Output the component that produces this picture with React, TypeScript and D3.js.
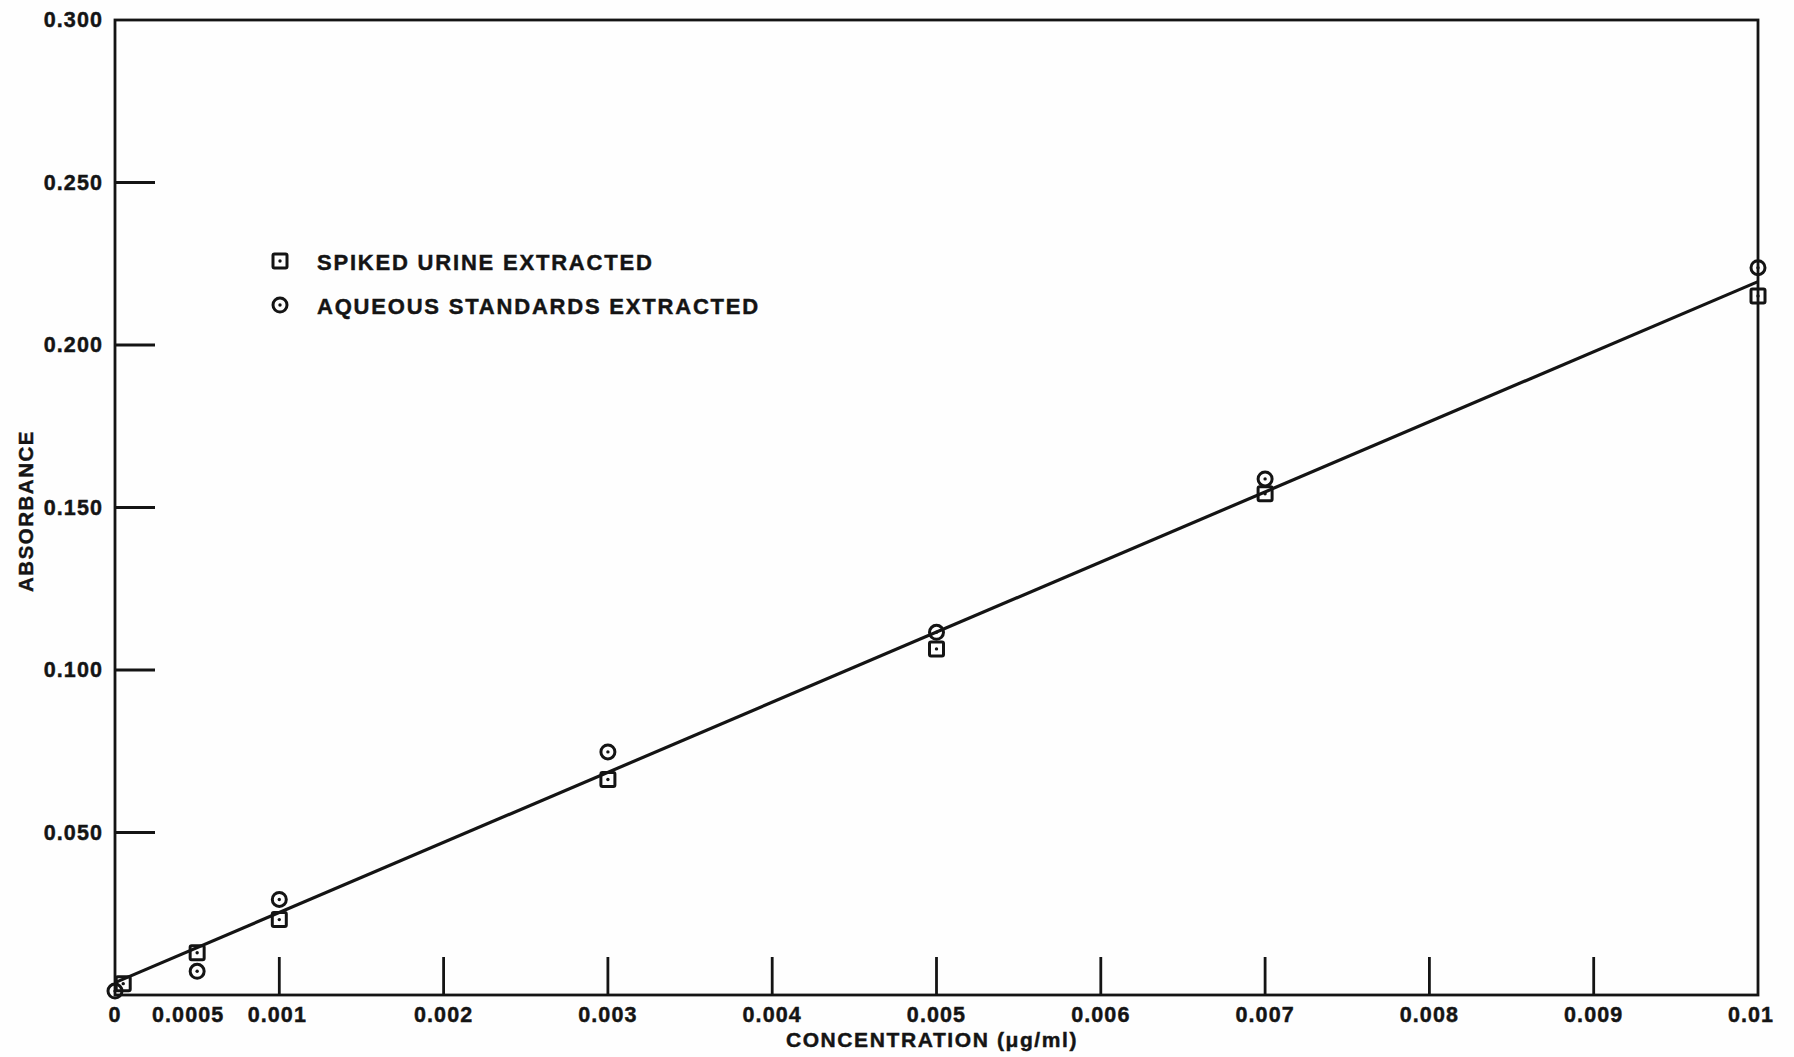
import React from "react";
import * as d3 from "d3";

// Concentration levels (µg/ml) and measured absorbances
const urineConc = [0.00005, 0.0005, 0.001, 0.003, 0.005, 0.007, 0.01];
const urineAbs = [0.0035, 0.013, 0.0232, 0.0663, 0.1065, 0.1542, 0.2151];

const aqueousConc = [0, 0.0005, 0.001, 0.003, 0.005, 0.007, 0.01];
const aqueousAbs = [0.0012, 0.0073, 0.0294, 0.0748, 0.1116, 0.1588, 0.2238];

// Calibration line end points
const fitConc = [0, 0.01];
const fitAbs = [0.0038, 0.2195];

// Axis ticks and labels
const xTickMarks = [0.001, 0.002, 0.003, 0.004, 0.005, 0.006, 0.007, 0.008, 0.009];
const xTickValues = [0, 0.0005, 0.001, 0.002, 0.003, 0.004, 0.005, 0.006, 0.007, 0.008, 0.009, 0.01];
const xTickLabels = ["0", "0.0005", "0.001", "0.002", "0.003", "0.004", "0.005", "0.006", "0.007", "0.008", "0.009", "0.01"];
const yTickMarks = [0.05, 0.1, 0.15, 0.2, 0.25];
const yTickValues = [0.05, 0.1, 0.15, 0.2, 0.25, 0.3];
const yTickLabels = ["0.050", "0.100", "0.150", "0.200", "0.250", "0.300"];

const seriesNames = ["SPIKED URINE EXTRACTED", "AQUEOUS STANDARDS EXTRACTED"];

const W = 1794;
const H = 1057;
const left = 115;
const right = 1758;
const top = 20;
const bottom = 995;

const INK = "#141414";
const FONT = "'Liberation Sans', Arial, Helvetica, sans-serif";

function SquareMark({ cx, cy }: { cx: number; cy: number }) {
  const s = 14;
  return (
    <g>
      <rect x={cx - s / 2} y={cy - s / 2} width={s} height={s} fill="none" stroke={INK} strokeWidth={3} rx={1.5} />
      <circle cx={cx} cy={cy} r={1.7} fill={INK} />
    </g>
  );
}

function CircleMark({ cx, cy }: { cx: number; cy: number }) {
  return (
    <g>
      <circle cx={cx} cy={cy} r={7} fill="none" stroke={INK} strokeWidth={3} />
      <circle cx={cx} cy={cy} r={1.7} fill={INK} />
    </g>
  );
}

export default function App() {
  const x = d3.scaleLinear().domain([0, 0.01]).range([left, right]);
  const y = d3.scaleLinear().domain([0, 0.3]).range([bottom, top]);

  const line = d3
    .line<number>()
    .x((d) => x(fitConc[d]))
    .y((d) => y(fitAbs[d]));

  const xLabelShift: Record<string, number> = { "0.0005": -9, "0.01": -7, "0.001": -2 };

  const textStyle = { fill: INK, stroke: INK, strokeWidth: 0.45 };

  return (
    <svg
      width={W}
      height={H}
      viewBox={`0 0 ${W} ${H}`}
      style={{ position: "absolute", left: 0, top: 0, background: "#fefefe" }}
      fontFamily={FONT}
      fontWeight="bold"
    >
      <rect x={0} y={0} width={W} height={H} fill="#fefefe" />

      {/* frame */}
      <rect
        x={left}
        y={top}
        width={right - left}
        height={bottom - top}
        fill="none"
        stroke={INK}
        strokeWidth={2.8}
      />

      {/* y tick marks, pointing inward */}
      {yTickMarks.map((v) => (
        <line key={"yt" + v} x1={left} x2={left + 40} y1={y(v)} y2={y(v)} stroke={INK} strokeWidth={2.8} />
      ))}
      {/* x tick marks, pointing upward */}
      {xTickMarks.map((v) => (
        <line key={"xt" + v} x1={x(v)} x2={x(v)} y1={bottom} y2={bottom - 38} stroke={INK} strokeWidth={2.8} />
      ))}

      {/* y tick labels */}
      {yTickValues.map((v, i) => (
        <text
          key={"yl" + v}
          x={103}
          y={y(v)}
          textAnchor="end"
          dominantBaseline="central"
          fontSize={21.5}
          letterSpacing={1.1}
          {...textStyle}
        >
          {yTickLabels[i]}
        </text>
      ))}

      {/* x tick labels */}
      {xTickValues.map((v, i) => (
        <text
          key={"xl" + v}
          x={x(v) + (xLabelShift[xTickLabels[i]] || 0)}
          y={1021.5}
          textAnchor="middle"
          fontSize={21.5}
          letterSpacing={1.1}
          {...textStyle}
        >
          {xTickLabels[i]}
        </text>
      ))}

      {/* axis titles */}
      <text x={932} y={1046.5} textAnchor="middle" fontSize={21} letterSpacing={1.6} {...textStyle}>
        CONCENTRATION (μg/ml)
      </text>
      <text
        transform="translate(33,511) rotate(-90)"
        textAnchor="middle"
        fontSize={20.5}
        letterSpacing={1.5}
        {...textStyle}
      >
        ABSORBANCE
      </text>

      {/* calibration line */}
      <path d={line([0, 1]) || ""} fill="none" stroke={INK} strokeWidth={3.2} />

      {/* data points */}
      {aqueousConc.map((c, i) => (
        <CircleMark key={"a" + i} cx={x(c)} cy={y(aqueousAbs[i])} />
      ))}
      {urineConc.map((c, i) => (
        <SquareMark key={"u" + i} cx={x(c)} cy={y(urineAbs[i])} />
      ))}

      {/* legend */}
      <SquareMark cx={280} cy={261} />
      <text x={317} y={269.5} fontSize={22} letterSpacing={1.8} {...textStyle}>
        {seriesNames[0]}
      </text>
      <CircleMark cx={280} cy={305} />
      <text x={317} y={313.5} fontSize={22} letterSpacing={1.8} {...textStyle}>
        {seriesNames[1]}
      </text>
    </svg>
  );
}
